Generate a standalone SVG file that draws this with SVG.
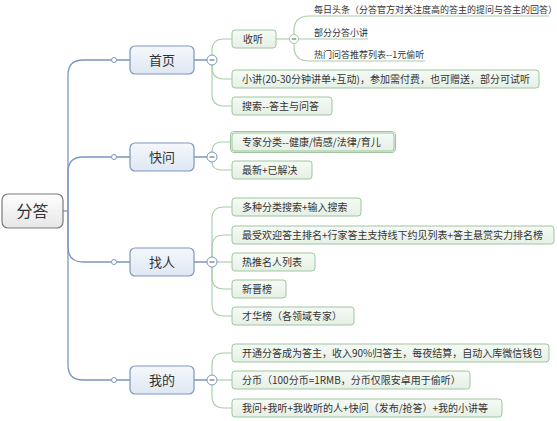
<svg xmlns="http://www.w3.org/2000/svg" width="557" height="421" viewBox="0 0 557 421">
<defs>
<linearGradient id="gRoot" x1="0" y1="0" x2="0" y2="1"><stop offset="0" stop-color="#ffffff"/><stop offset="1" stop-color="#e6e6e6"/></linearGradient>
<linearGradient id="gMain" x1="0" y1="0" x2="0" y2="1"><stop offset="0" stop-color="#f5f8fc"/><stop offset="1" stop-color="#dee7f3"/></linearGradient>
<linearGradient id="gSub" x1="0" y1="0" x2="0" y2="1"><stop offset="0" stop-color="#f6faf6"/><stop offset="1" stop-color="#e5f0e5"/></linearGradient>
</defs>
<style>
text{font-family:"Microsoft YaHei","Noto Sans CJK SC",sans-serif;fill:#333}
.root rect{fill:url(#gRoot);stroke:#7a7a7a;stroke-width:1.2}
.root text{font-size:16px;text-anchor:middle}
.main rect{fill:url(#gMain);stroke:#7b96bf;stroke-width:1.2}
.main text{font-size:13px;text-anchor:middle}
.sub rect{fill:url(#gSub);stroke:#9fc69f;stroke-width:1}
.sub text{font-size:10px}
.leaf text{font-size:9px}
.trunk{fill:none;stroke:#7b96bf;stroke-width:1.3}
.br{fill:none;stroke:#a7cca7;stroke-width:1.1}
.dot{fill:#fff;stroke:#7b96bf;stroke-width:1}
.col{fill:#fff;stroke:#7b96bf;stroke-width:1}
.colg{fill:#fff;stroke:#9fc69f;stroke-width:1}
.minus{stroke:#555;stroke-width:1}
.sel{fill:none;stroke:#9cc0e8;stroke-width:2.5}
</style>
<g id="connectors">
<path class="trunk" d="M63,211 L68,211"/>
<path class="trunk" d="M68,211 L68,75 Q68,60 83,60 L111.5,60"/>
<path class="trunk" d="M68,211 L68,172 Q68,157 83,157 L111.5,157"/>
<path class="trunk" d="M68,211 L68,247 Q68,262 83,262 L111.5,262"/>
<path class="trunk" d="M68,211 L68,365 Q68,380 83,380 L111.5,380"/>
<path class="trunk" d="M116.5,60 L130,60 M116.5,157 L130,157 M116.5,262 L130,262 M116.5,380 L130,380"/>
<path class="trunk" d="M194,60 L207,60 M194,157 L207,157 M194,262 L207,262 M194,380 L207,380"/>
<circle class="dot" cx="114" cy="60" r="2.5"/>
<circle class="dot" cx="114" cy="157" r="2.5"/>
<circle class="dot" cx="114" cy="262" r="2.5"/>
<circle class="dot" cx="114" cy="380" r="2.5"/>
<path class="br" d="M212,55 L212,51 Q212,39 224,39 L232,39"/>
<path class="br" d="M212,65 L212,67 Q212,79 224,79 L232,79"/>
<path class="br" d="M212,65 L212,94 Q212,106 224,106 L232,106"/>
<path class="br" d="M212,152 Q212,142 222,142 L232,142"/>
<path class="br" d="M212,162 Q212,170 222,170 L232,170"/>
<path class="br" d="M212,257 L212,219 Q212,207 224,207 L232,207"/>
<path class="br" d="M212,257 L212,247 Q212,235 224,235 L232,235"/>
<path class="br" d="M217,262 L232,262"/>
<path class="br" d="M212,267 L212,277 Q212,289 224,289 L232,289"/>
<path class="br" d="M212,267 L212,304 Q212,316 224,316 L232,316"/>
<path class="br" d="M212,375 L212,365 Q212,353 224,353 L232,353"/>
<path class="br" d="M217,380 L232,380"/>
<path class="br" d="M212,385 L212,396 Q212,408 224,408 L232,408"/>
<path class="br" d="M276,39 L289.5,39"/>
<path class="br" d="M294,34.5 L294,31 Q294,16 309,16 L549,16"/>
<path class="br" d="M298.5,39 L368,39"/>
<path class="br" d="M294,43.5 L294,46 Q294,61 309,61 L425,61"/>
<g id="collapse">
<circle class="col" cx="212" cy="60" r="5"/><path class="minus" d="M209.5,60 H214.5"/>
<circle class="col" cx="212" cy="157" r="5"/><path class="minus" d="M209.5,157 H214.5"/>
<circle class="col" cx="212" cy="262" r="5"/><path class="minus" d="M209.5,262 H214.5"/>
<circle class="col" cx="212" cy="380" r="5"/><path class="minus" d="M209.5,380 H214.5"/>
<circle class="colg" cx="294" cy="39" r="4.5"/><path class="minus" d="M291.8,39 H296.2"/>
</g>
</g>
<g id="root" class="root"><rect x="2" y="194" width="61" height="34" rx="6"/><text x="32.5" y="216.5">分答</text></g>
<g id="n-shouye" class="main"><rect x="130" y="46" width="64" height="28" rx="5"/><text x="162" y="64.5">首页</text></g>
<g id="n-kuaiwen" class="main"><rect x="130" y="143" width="64" height="28" rx="5"/><text x="162" y="161.5">快问</text></g>
<g id="n-zhaoren" class="main"><rect x="130" y="248" width="64" height="28" rx="5"/><text x="162" y="266.5">找人</text></g>
<g id="n-wode" class="main"><rect x="130" y="366" width="64" height="28" rx="5"/><text x="162" y="384.5">我的</text></g>
<g id="n-shouting" class="sub"><rect x="232" y="30" width="44" height="18" rx="3"/><text x="243" y="42.6">收听</text></g>
<g id="n-meiri" class="leaf"><text x="314" y="13.2">每日头条（分答官方对关注度高的答主的提问与答主的回答）</text></g>
<g id="n-bufen" class="leaf"><text x="314" y="36.2">部分分答小讲</text></g>
<g id="n-remen" class="leaf"><text x="314" y="58">热门问答推荐列表--1元偷听</text></g>
<g id="n-xiaojiang" class="sub"><rect x="232" y="70" width="307" height="18" rx="3"/><text x="242" y="82.6">小讲(20-30分钟讲单+互动)，参加需付费，也可赠送，部分可试听</text></g>
<g id="n-sousuo" class="sub"><rect x="232" y="97" width="100" height="18" rx="3"/><text x="242" y="109.6">搜索--答主与问答</text></g>
<g id="n-zhuanjia" class="sub"><rect class="sel" x="230.5" y="131.5" width="165" height="21" rx="3.5"/><rect x="232" y="133" width="162" height="18" rx="3"/><text x="242" y="145.6">专家分类--健康/情感/法律/育儿</text></g>
<g id="n-zuixin" class="sub"><rect x="232" y="161" width="80" height="18" rx="3"/><text x="242" y="173.6">最新+已解决</text></g>
<g id="n-duozhong" class="sub"><rect x="232" y="198" width="129" height="18" rx="3"/><text x="242" y="210.6">多种分类搜索+输入搜索</text></g>
<g id="n-zuishou" class="sub"><rect x="232" y="226" width="322" height="18" rx="3"/><text x="242" y="238.6">最受欢迎答主排名+行家答主支持线下约见列表+答主悬赏实力排名榜</text></g>
<g id="n-retui" class="sub"><rect x="232" y="253" width="83" height="18" rx="3"/><text x="242" y="265.6">热推名人列表</text></g>
<g id="n-xinjin" class="sub"><rect x="232" y="280" width="54" height="18" rx="3"/><text x="242" y="292.6">新晋榜</text></g>
<g id="n-caihua" class="sub"><rect x="232" y="307" width="122" height="18" rx="3"/><text x="242" y="319.6">才华榜（各领域专家）</text></g>
<g id="n-kaitong" class="sub"><rect x="232" y="344" width="317" height="18" rx="3"/><text x="242" y="356.6">开通分答成为答主，收入90%归答主，每夜结算，自动入库微信钱包</text></g>
<g id="n-fenbi" class="sub"><rect x="232" y="371" width="238" height="18" rx="3"/><text x="242" y="383.6">分币（100分币=1RMB，分币仅限安卓用于偷听）</text></g>
<g id="n-wowen" class="sub"><rect x="232" y="399" width="270" height="18" rx="3"/><text x="242" y="411.6">我问+我听+我收听的人+快问（发布/抢答）+我的小讲等</text></g>
</svg>
